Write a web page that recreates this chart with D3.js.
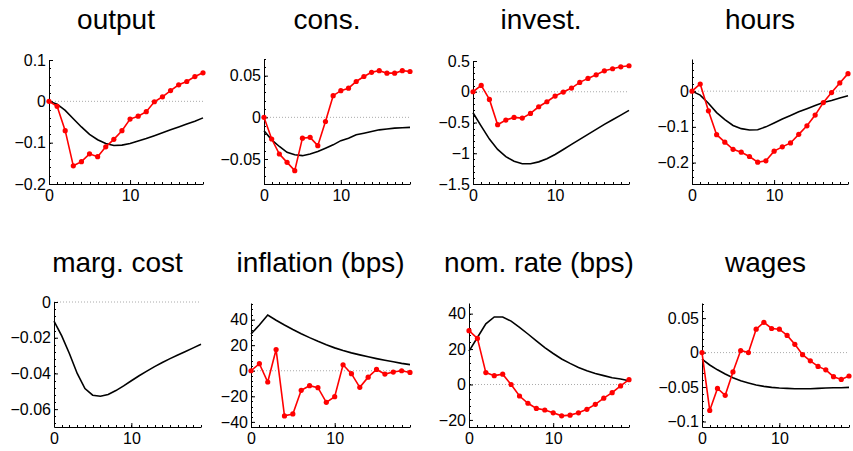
<!DOCTYPE html>
<html>
<head>
<meta charset="utf-8">
<script src="https://cdn.jsdelivr.net/npm/d3@7"></script>
<style>
  body { margin: 0; background: #fff; }
  text { font-family: "Liberation Sans", Arial, Helvetica, sans-serif; }
</style>
</head>
<body>
<svg id="chart" width="853" height="451"></svg>
<script>
    // horizon 0..19
    var steps = d3.range(0, 20);

    var titles = ["output", "cons.", "invest.", "hours",
                  "marg. cost", "inflation (bps)", "nom. rate (bps)", "wages"];

    // model responses (black)
    var outputModel = [0, -0.007, -0.022, -0.042, -0.062, -0.08, -0.093, -0.102, -0.107, -0.106,
                       -0.102, -0.096, -0.09, -0.083, -0.076, -0.069, -0.062, -0.055, -0.048, -0.04];
    var consModel = [-0.016, -0.027, -0.035, -0.042, -0.045, -0.046, -0.044, -0.041, -0.037, -0.033,
                     -0.028, -0.025, -0.021, -0.019, -0.017, -0.015, -0.014, -0.013, -0.0125, -0.012];
    var investModel = [-0.341, -0.558, -0.77, -0.937, -1.055, -1.13, -1.17, -1.17, -1.14, -1.09,
                       -1.02, -0.94, -0.856, -0.775, -0.693, -0.612, -0.53, -0.455, -0.38, -0.303];
    var hoursModel = [0, -0.011, -0.034, -0.06, -0.08, -0.096, -0.105, -0.109, -0.108, -0.1,
                      -0.089, -0.078, -0.068, -0.058, -0.049, -0.04, -0.032, -0.026, -0.019, -0.013];
    var mcModel = [-0.0107, -0.019, -0.029, -0.040, -0.0485, -0.0522, -0.0528, -0.0518, -0.0496, -0.047,
                   -0.0441, -0.0413, -0.0387, -0.0362, -0.0339, -0.0317, -0.0297, -0.0277, -0.0257, -0.0237];
    var inflModel = [28.8, 35.8, 43.6, 39.5, 35.8, 32.3, 29.0, 25.9, 23.0, 20.3,
                     17.9, 15.8, 14.0, 12.4, 10.9, 9.5, 8.2, 7.0, 5.8, 4.8];
    var rateModel = [18.8, 26.5, 34.2, 38.1, 38.1, 35.8, 32.3, 28.5, 24.6, 20.8,
                     17.5, 14.4, 11.9, 9.6, 7.7, 6.2, 5, 3.8, 3.1, 2.1];
    var wageModel = [-0.0096, -0.018, -0.025, -0.031, -0.0365, -0.041, -0.044, -0.047, -0.049, -0.0505,
                     -0.0514, -0.052, -0.0524, -0.0524, -0.0524, -0.052, -0.0514, -0.051, -0.051, -0.0505];

    // estimated responses (red, with markers)
    var outputEst = [0, -0.012, -0.071, -0.156, -0.146, -0.127, -0.134, -0.11, -0.092, -0.071,
                     -0.043, -0.036, -0.025, -0.001, 0.011, 0.026, 0.04, 0.048, 0.06, 0.069];
    var consEst = [0, -0.026, -0.044, -0.054, -0.064, -0.025, -0.024, -0.034, -0.005, 0.026,
                   0.032, 0.035, 0.043, 0.049, 0.054, 0.056, 0.053, 0.053, 0.056, 0.055];
    var investEst = [0, 0.103, -0.125, -0.536, -0.46, -0.417, -0.428, -0.352, -0.244, -0.163,
                     -0.07, -0.005, 0.06, 0.152, 0.217, 0.276, 0.341, 0.374, 0.406, 0.423];
    var hoursEst = [0, 0.02, -0.055, -0.122, -0.143, -0.163, -0.171, -0.183, -0.199, -0.195,
                    -0.168, -0.156, -0.145, -0.121, -0.097, -0.067, -0.032, -0.004, 0.023, 0.049];
    var inflEst = [0, 5.5, -8.8, 16.6, -35.3, -33.8, -15.3, -11.7, -13.2, -24.7,
                   -20.3, 4.7, -2.3, -13, -5, 1, -2.6, -1, 0, -1.3];
    var rateEst = [30.4, 26, 6.7, 5, 5.8, 0, -6.5, -10.6, -13.5, -14.4,
                   -16, -17.7, -17.3, -16, -14, -11.2, -7.7, -4.6, -0.8, 2.7];
    var wageEst = [0, -0.084, -0.052, -0.062, -0.028, 0.003, 0, 0.034, 0.044, 0.035,
                   0.034, 0.025, 0.012, -0.003, -0.012, -0.02, -0.025, -0.035, -0.039, -0.034];

    var modelSeries = [outputModel, consModel, investModel, hoursModel, mcModel, inflModel, rateModel, wageModel];
    var estSeries = [outputEst, consEst, investEst, hoursEst, null, inflEst, rateEst, wageEst];

    var yDomains = [[-0.2, 0.1], [-0.08, 0.07], [-1.5, 0.5], [-0.26, 0.09],
                    [-0.07, 0], [-44, 53], [-24, 46], [-0.108, 0.072]];
    var yTicks = [[-0.2, -0.1, 0, 0.1], [-0.05, 0, 0.05], [-1.5, -1, -0.5, 0, 0.5], [-0.2, -0.1, 0],
                  [-0.06, -0.04, -0.02, 0], [-40, -20, 0, 20, 40], [-20, 0, 20, 40], [-0.1, -0.05, 0, 0.05]];
    var yMinor = [0.02, 0.01, 0.1, 0.02, 0.004, 4, 4, 0.01];
    var xTicks = [0, 10];

    // plot boxes: left, right, top, bottom
    var boxes = [[49, 203, 60, 184], [264, 410, 59, 184], [473, 629, 61, 184], [692, 848, 59, 184],
                 [54, 201, 302, 427], [251, 410, 303, 427], [469, 629, 303, 427], [702, 849, 303, 427]];

    var svg = d3.select("#chart");
    var fmt = d3.format("~g");

    titles.forEach(function(title, i) {
        var b = boxes[i];
        var x = d3.scaleLinear().domain([0, 19]).range([b[0], b[1]]);
        var y = d3.scaleLinear().domain(yDomains[i]).range([b[3], b[2]]);
        var g = svg.append("g");

        // title
        g.append("text")
            .attr("x", (b[0] + b[1]) / 2 - 10)
            .attr("y", i < 4 ? 29 : 272)
            .attr("text-anchor", "middle")
            .attr("font-size", 28)
            .attr("fill", "#000")
            .text(title);

        // dotted zero line
        g.append("line")
            .attr("x1", b[0]).attr("x2", b[1])
            .attr("y1", y(0)).attr("y2", y(0))
            .attr("stroke", "#aaa")
            .attr("stroke-width", 1)
            .attr("stroke-dasharray", "1,2");

        // minor ticks
        var ym = yMinor[i];
        var minorY = d3.range(Math.ceil(yDomains[i][0] / ym), Math.floor(yDomains[i][1] / ym) + 1)
            .map(function(k) { return k * ym; });
        g.append("g").selectAll("line").data(minorY).join("line")
            .attr("x1", b[0]).attr("x2", b[0] + 2)
            .attr("y1", function(d) { return Math.round(y(d)) + 0.5; })
            .attr("y2", function(d) { return Math.round(y(d)) + 0.5; })
            .attr("stroke", "#000").attr("stroke-width", 1);
        g.append("g").selectAll("line").data(steps).join("line")
            .attr("x1", function(d) { return Math.round(x(d)) + 0.5; })
            .attr("x2", function(d) { return Math.round(x(d)) + 0.5; })
            .attr("y1", b[3]).attr("y2", b[3] - 2)
            .attr("stroke", "#000").attr("stroke-width", 1);

        // axes
        var yAxis = d3.axisLeft(y).tickValues(yTicks[i]).tickSizeInner(-4).tickSizeOuter(0)
            .tickPadding(3).tickFormat(fmt);
        var ga = g.append("g").attr("transform", "translate(" + b[0] + ",0)").call(yAxis);
        var xAxis = d3.axisBottom(x).tickValues(xTicks).tickSizeInner(-4).tickSizeOuter(0)
            .tickPadding(6).tickFormat(fmt);
        var gb = g.append("g").attr("transform", "translate(0," + b[3] + ")").call(xAxis);
        [ga, gb].forEach(function(a) {
            a.select(".domain").attr("stroke", "#000");
            a.selectAll("text").attr("font-size", 16).attr("fill", "#000")
                .attr("font-family", "Liberation Sans, Arial, sans-serif");
        });

        var line = d3.line()
            .x(function(d, k) { return x(steps[k]); })
            .y(function(d) { return y(d); });

        // model line
        g.append("path")
            .datum(modelSeries[i])
            .attr("d", line)
            .attr("fill", "none")
            .attr("stroke", "#000")
            .attr("stroke-width", 1.6);

        // estimated with markers
        if (estSeries[i]) {
            g.append("path")
                .datum(estSeries[i])
                .attr("d", line)
                .attr("fill", "none")
                .attr("stroke", "#f00")
                .attr("stroke-width", 1.6);
            g.append("g").selectAll("circle").data(estSeries[i]).join("circle")
                .attr("cx", function(d, k) { return x(steps[k]); })
                .attr("cy", function(d) { return y(d); })
                .attr("r", 2.6)
                .attr("fill", "#f00");
        }
    });
</script>
</body>
</html>
